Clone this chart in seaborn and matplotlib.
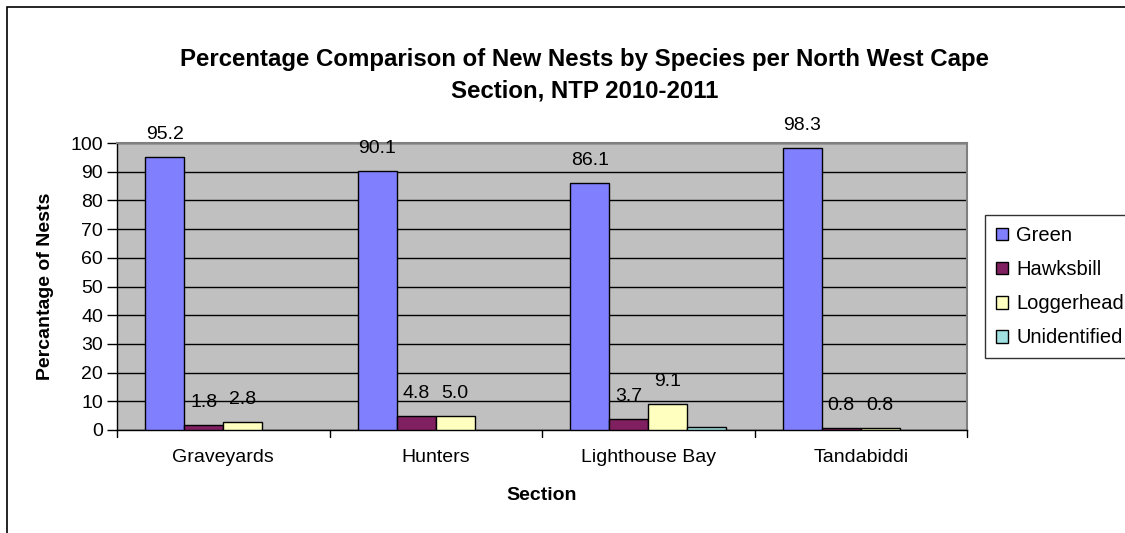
import matplotlib
matplotlib.use("Agg")
import matplotlib.pyplot as plt
import matplotlib.patches as mpatches
import seaborn as sns
import pandas as pd

# Nest counts by section, as percentages of new nests per species
sections = ["Graveyards", "Hunters", "Lighthouse Bay", "Tandabiddi"]
species = ["Green", "Hawksbill", "Loggerhead", "Unidentified"]
green = [95.2, 90.1, 86.1, 98.3]
hawksbill = [1.8, 4.8, 3.7, 0.8]
loggerhead = [2.8, 5.0, 9.1, 0.8]
unidentified = [0.0, 0.0, 1.1, 0.0]
labelled_species = ["Green", "Hawksbill", "Loggerhead"]
yticks = [0, 10, 20, 30, 40, 50, 60, 70, 80, 90, 100]

colors = ["#8080FF", "#802060", "#FFFFC0", "#A0E0E0"]

rows = []
for sp, vals in zip(species, [green, hawksbill, loggerhead, unidentified]):
    for sec, v in zip(sections, vals):
        rows.append({"Section": sec, "Species": sp, "Pct": v})
df = pd.DataFrame(rows)

sns.set_theme(style="white")
plt.rcParams["font.family"] = ["Liberation Sans", "DejaVu Sans"]
plt.rcParams["text.color"] = "black"
plt.rcParams["axes.labelcolor"] = "black"
plt.rcParams["xtick.color"] = "black"
plt.rcParams["ytick.color"] = "black"

W, H = 1125, 533
fig = plt.figure(figsize=(W / 100, H / 100), dpi=100)
fig.patch.set_facecolor("white")

# outer chart border
fig.add_artist(mpatches.Rectangle((7 / W, -0.1), 1.2, (H - 7) / H + 0.1,
                                  transform=fig.transFigure, fill=False,
                                  edgecolor="black", linewidth=1.2))

L, R, T, B = 117, 967, 143, 430
ax = fig.add_axes([L / W, (H - B) / H, (R - L) / W, (B - T) / H])
ax.set_facecolor("#C0C0C0")

sns.barplot(data=df, x="Section", y="Pct", hue="Species", hue_order=species,
            order=sections, palette=colors, width=0.734, edgecolor="black",
            linewidth=1.0, saturation=1, ax=ax, legend=False, zorder=3)

# empty bars leave no outline on the baseline
for container in ax.containers:
    for patch in container:
        if patch.get_height() == 0:
            patch.set_linewidth(0)

ax.set_ylim(0, 100)
ax.set_xlim(-0.5, len(sections) - 0.5)
ax.set_yticks(yticks)
ax.set_yticklabels([str(t) for t in yticks], fontsize=14)
ax.yaxis.grid(True, color="black", linewidth=1.0, zorder=1)
ax.set_axisbelow(True)

# category ticks sit on the boundaries between sections
ax.set_xticks(range(len(sections)))
ax.set_xticklabels(sections, fontsize=14)
ax.tick_params(axis="x", length=0, pad=14)
for b in [i - 0.5 for i in range(len(sections) + 1)]:
    ax.plot([b, b], [0, -0.024], transform=ax.get_xaxis_transform(),
            color="black", linewidth=1.0, clip_on=False)
ax.tick_params(axis="y", length=7, width=1, color="black", pad=3, left=True)

for side in ["top", "right"]:
    ax.spines[side].set_color("#808080")
    ax.spines[side].set_linewidth(1.5)
for side in ["left", "bottom"]:
    ax.spines[side].set_color("black")
    ax.spines[side].set_linewidth(1.0)

# value labels above the bars
for container, sp in zip(ax.containers, species):
    if sp not in labelled_species:
        continue
    for patch in container:
        h = patch.get_height()
        ax.annotate(f"{h:.1f}", (patch.get_x() + patch.get_width() / 2, h),
                    xytext=(0, 18), textcoords="offset pixels",
                    ha="center", va="baseline", fontsize=14, color="black",
                    zorder=5, annotation_clip=False)

ax.set_xlabel("Section", fontsize=14, fontweight="bold", labelpad=15)
ax.set_ylabel("Percantage of Nests", fontsize=14, fontweight="bold", labelpad=12)

fig.text(585 / W, 1 - 75 / H,
         "Percentage Comparison of New Nests by Species per North West Cape\nSection, NTP 2010-2011",
         ha="center", va="center", fontsize=17.3, fontweight="bold",
         linespacing=1.45)

handles = [mpatches.Patch(facecolor=c, edgecolor="black", linewidth=1.0, label=s)
           for c, s in zip(colors, species)]
leg = fig.legend(handles=handles, loc="upper left",
                 bbox_to_anchor=(985 / W, 1 - 215 / H), fontsize=14.5,
                 frameon=True, fancybox=False, edgecolor="black",
                 handlelength=0.6, handleheight=0.6, handletextpad=0.4,
                 labelspacing=0.75, borderpad=0.55, borderaxespad=0)
leg.get_frame().set_linewidth(1.0)

fig.savefig("out.png", dpi=100)
